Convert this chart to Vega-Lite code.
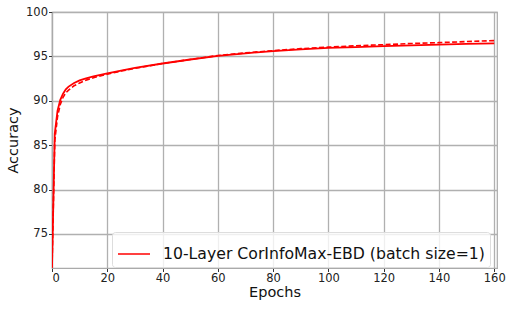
{
  "$schema": "https://vega.github.io/schema/vega-lite/v6.json",
  "width": 445,
  "height": 256,
  "autosize": "none",
  "padding": {"left": 52, "top": 12, "right": 17, "bottom": 41},
  "config": {
    "font": "DejaVu Sans",
    "view": {"stroke": "#aaaaaa", "strokeWidth": 1.2},
    "axis": {
      "grid": true,
      "gridColor": "#b0b0b0",
      "gridWidth": 1.3,
      "domainColor": "#aaaaaa",
      "domainWidth": 1.2,
      "tickColor": "#333333",
      "tickSize": 3.5,
      "labelFont": "DejaVu Sans",
      "labelFontSize": 11.5,
      "labelColor": "#222222",
      "labelPadding": 1,
      "titleFont": "DejaVu Sans",
      "titleFontSize": 14.5,
      "titleFontWeight": "normal",
      "titleColor": "#111111"
    }
  },
  "data": {
    "values": [
      {"epoch": 0, "acc": 71.2, "run": "10-Layer CorInfoMax-EBD (batch size=1)"},
      {"epoch": 1, "acc": 86.3, "run": "10-Layer CorInfoMax-EBD (batch size=1)"},
      {"epoch": 2, "acc": 88.9, "run": "10-Layer CorInfoMax-EBD (batch size=1)"},
      {"epoch": 3, "acc": 90.1, "run": "10-Layer CorInfoMax-EBD (batch size=1)"},
      {"epoch": 4, "acc": 90.8, "run": "10-Layer CorInfoMax-EBD (batch size=1)"},
      {"epoch": 5, "acc": 91.3, "run": "10-Layer CorInfoMax-EBD (batch size=1)"},
      {"epoch": 6, "acc": 91.6, "run": "10-Layer CorInfoMax-EBD (batch size=1)"},
      {"epoch": 8, "acc": 92.0, "run": "10-Layer CorInfoMax-EBD (batch size=1)"},
      {"epoch": 10, "acc": 92.3, "run": "10-Layer CorInfoMax-EBD (batch size=1)"},
      {"epoch": 12, "acc": 92.5, "run": "10-Layer CorInfoMax-EBD (batch size=1)"},
      {"epoch": 15, "acc": 92.75, "run": "10-Layer CorInfoMax-EBD (batch size=1)"},
      {"epoch": 20, "acc": 93.1, "run": "10-Layer CorInfoMax-EBD (batch size=1)"},
      {"epoch": 25, "acc": 93.4, "run": "10-Layer CorInfoMax-EBD (batch size=1)"},
      {"epoch": 30, "acc": 93.7, "run": "10-Layer CorInfoMax-EBD (batch size=1)"},
      {"epoch": 40, "acc": 94.2, "run": "10-Layer CorInfoMax-EBD (batch size=1)"},
      {"epoch": 50, "acc": 94.65, "run": "10-Layer CorInfoMax-EBD (batch size=1)"},
      {"epoch": 60, "acc": 95.05, "run": "10-Layer CorInfoMax-EBD (batch size=1)"},
      {"epoch": 70, "acc": 95.35, "run": "10-Layer CorInfoMax-EBD (batch size=1)"},
      {"epoch": 80, "acc": 95.6, "run": "10-Layer CorInfoMax-EBD (batch size=1)"},
      {"epoch": 90, "acc": 95.8, "run": "10-Layer CorInfoMax-EBD (batch size=1)"},
      {"epoch": 100, "acc": 95.95, "run": "10-Layer CorInfoMax-EBD (batch size=1)"},
      {"epoch": 110, "acc": 96.05, "run": "10-Layer CorInfoMax-EBD (batch size=1)"},
      {"epoch": 120, "acc": 96.15, "run": "10-Layer CorInfoMax-EBD (batch size=1)"},
      {"epoch": 130, "acc": 96.25, "run": "10-Layer CorInfoMax-EBD (batch size=1)"},
      {"epoch": 140, "acc": 96.32, "run": "10-Layer CorInfoMax-EBD (batch size=1)"},
      {"epoch": 150, "acc": 96.4, "run": "10-Layer CorInfoMax-EBD (batch size=1)"},
      {"epoch": 160, "acc": 96.46, "run": "10-Layer CorInfoMax-EBD (batch size=1)"},
      {"epoch": 0, "acc": 71.2, "run": "dashed"},
      {"epoch": 1, "acc": 85.5, "run": "dashed"},
      {"epoch": 2, "acc": 88.2, "run": "dashed"},
      {"epoch": 3, "acc": 89.6, "run": "dashed"},
      {"epoch": 4, "acc": 90.4, "run": "dashed"},
      {"epoch": 5, "acc": 90.9, "run": "dashed"},
      {"epoch": 6, "acc": 91.2, "run": "dashed"},
      {"epoch": 8, "acc": 91.7, "run": "dashed"},
      {"epoch": 10, "acc": 92.0, "run": "dashed"},
      {"epoch": 12, "acc": 92.3, "run": "dashed"},
      {"epoch": 15, "acc": 92.6, "run": "dashed"},
      {"epoch": 20, "acc": 93.0, "run": "dashed"},
      {"epoch": 25, "acc": 93.35, "run": "dashed"},
      {"epoch": 30, "acc": 93.65, "run": "dashed"},
      {"epoch": 40, "acc": 94.2, "run": "dashed"},
      {"epoch": 50, "acc": 94.65, "run": "dashed"},
      {"epoch": 60, "acc": 95.1, "run": "dashed"},
      {"epoch": 70, "acc": 95.4, "run": "dashed"},
      {"epoch": 80, "acc": 95.65, "run": "dashed"},
      {"epoch": 90, "acc": 95.87, "run": "dashed"},
      {"epoch": 100, "acc": 96.05, "run": "dashed"},
      {"epoch": 110, "acc": 96.2, "run": "dashed"},
      {"epoch": 120, "acc": 96.32, "run": "dashed"},
      {"epoch": 130, "acc": 96.45, "run": "dashed"},
      {"epoch": 140, "acc": 96.55, "run": "dashed"},
      {"epoch": 150, "acc": 96.67, "run": "dashed"},
      {"epoch": 160, "acc": 96.78, "run": "dashed"}
    ]
  },
  "encoding": {
    "x": {
      "field": "epoch",
      "type": "quantitative",
      "title": "Epochs",
      "scale": {"domain": [0, 161], "nice": false, "zero": false},
      "axis": {"values": [0, 20, 40, 60, 80, 100, 120, 140, 160], "titlePadding": 1}
    },
    "y": {
      "field": "acc",
      "type": "quantitative",
      "title": "Accuracy",
      "scale": {"domain": [71.17, 100], "nice": false, "zero": false},
      "axis": {"values": [75, 80, 85, 90, 95, 100], "titlePadding": 5}
    }
  },
  "layer": [
    {
      "transform": [{"filter": "datum.run == 'dashed'"}],
      "mark": {"type": "line", "color": "#ff0000", "strokeWidth": 1.6, "strokeDash": [5, 2.4], "clip": true}
    },
    {
      "transform": [{"filter": "datum.run != 'dashed'"}],
      "mark": {"type": "line", "strokeWidth": 1.8, "clip": true},
      "encoding": {
        "color": {
          "field": "run",
          "type": "nominal",
          "scale": {"range": ["#ff0000"]},
          "legend": {
            "title": null,
            "orient": "none",
            "legendX": 60,
            "legendY": 220,
            "symbolType": "stroke",
            "symbolSize": 1024,
            "symbolStrokeWidth": 1.5,
            "labelFontSize": 15.7,
            "labelFont": "DejaVu Sans",
            "labelColor": "#111111",
            "labelOffset": 12,
            "labelLimit": 0,
            "padding": 5,
            "fillColor": "rgba(255,255,255,0.8)",
            "strokeColor": "#dddddd",
            "cornerRadius": 3
          }
        }
      }
    }
  ]
}
